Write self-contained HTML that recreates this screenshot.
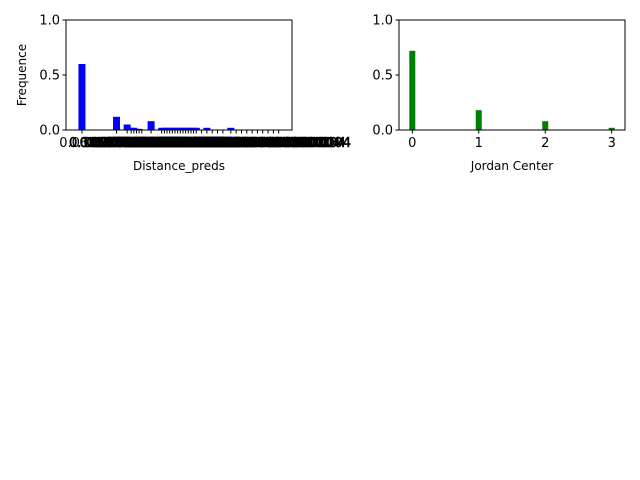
<!DOCTYPE html>
<html><head><meta charset="utf-8"><style>
body{margin:0;background:#fff;}
svg{display:block;font-family:"DejaVu Sans","Liberation Sans",sans-serif;}
</style></head><body>
<svg id="fig" width="640" height="480"></svg>
<script>
// Left chart data (x in distance units)
const distCats = [0.06,0.19,0.23,0.245,0.255,0.265,0.275,0.285,0.32,0.36,0.37,0.38,0.39,0.40,0.41,0.42,0.43,0.44,0.45,0.46,0.47,0.48,0.49,0.51,0.53,0.55,0.57,0.59,0.62,0.64,0.66,0.68,0.70,0.72,0.74,0.76,0.78,0.80];
const distVals = [0.60,0.12,0.05,0.02,0.02,0.01,0.01,0.0,0.08,0.02,0.02,0.02,0.02,0.02,0.02,0.02,0.02,0.02,0.02,0.02,0.02,0.02,0.02,0.0,0.02,0.0,0.0,0.0,0.02,0.0,0.0,0.0,0.0,0.0,0.0,0.0,0.0,0.0];
const distLabels = ["0.0625","0.1900000001","0.2300000001","0.2450000001","0.2550000001","0.2650000001","0.2750000001","0.2850000001","0.3200000001","0.3600000001","0.3700000001","0.3800000001","0.3900000001","0.4000000001","0.4100000001","0.4200000001","0.4300000001","0.4400000001","0.4500000001","0.4600000001","0.4700000001","0.4800000001","0.4900000001","0.5100000001","0.5300000001","0.55000000000001","0.57000000000001","0.590000000000001","0.620000000000001","0.640000000000001","0.660000000000001","0.680000000000001","0.7000000000000001","0.7200000000000001","0.7400000000000001","0.7600000000000004","0.7800000000000004","0.8000000000000004"];
// Right chart data
const jcCats = [0,1,2,3];
const jcVals = [0.72,0.18,0.08,0.02];
const jcLabels = ["0","1","2","3"];
const yTicks = [0,0.5,1.0];
const yTickLabels = ["0.0","0.5","1.0"];

const NS="http://www.w3.org/2000/svg";
const svg=document.getElementById('fig');
function mk(tag,attrs,parent){const e=document.createElementNS(NS,tag);for(const k in attrs)e.setAttribute(k,attrs[k]);(parent||svg).appendChild(e);return e;}

function axes(name,x0,x1,y0,y1,xmin,xmax,cats,vals,labels,color,barW,showYLabel,xTitle,labelSize,thick){
  const g=mk('g',{});
  
  
  const sx=v=>x0+(v-xmin)/(xmax-xmin)*(x1-x0);
  const sy=v=>y1-v*(y1-y0);
  cats.forEach((c,i)=>{
    const h=sy(0)-sy(vals[i]);
    const r=mk('rect',{x:sx(c)-barW/2,y:sy(vals[i]),width:barW,height:h,fill:color},g);
    
    
  });
  const fr=mk('rect',{x:x0,y:y0,width:x1-x0,height:y1-y0,fill:'none',stroke:'#000','stroke-width':1},g);
  
  
  yTicks.forEach((t,i)=>{
    mk('line',{x1:x0-3.5,x2:x0,y1:sy(t),y2:sy(t),stroke:'#000'},g);
    const tx=mk('text',{x:x0-6,y:sy(t)+4.5,'text-anchor':'end','font-size':13},g);
    tx.textContent=yTickLabels[i];
    
    
  });
  cats.forEach((c,i)=>{
    mk('line',{x1:sx(c),x2:sx(c),y1:y1,y2:y1+3.5,stroke:'#000'},g);
    const attrs={x:sx(c),y:y1+17,'text-anchor':'middle','font-size':labelSize};
    if(thick && i>0){attrs.stroke='#000';attrs['stroke-width']=0.6;}
    const tx=mk('text',attrs,g);
    tx.textContent=labels[i];
    
    
  });
  const xt=mk('text',{x:(x0+x1)/2,y:y1+40,'text-anchor':'middle','font-size':12},g);
  xt.textContent=xTitle;
  
  
  if(showYLabel){
    const yt=mk('text',{x:0,y:0,'text-anchor':'middle','font-size':12,transform:`translate(26,${(y0+y1)/2}) rotate(-90)`},g);
    yt.textContent='Frequence';
    
    
  }
}
axes('distance-chart',66,292,20,130,0,0.85,distCats,distVals,distLabels,'#0000ff',7,true,'Distance_preds',13,true);
axes('jordan-center-chart',399,625,20,130,-0.2,3.2,jcCats,jcVals,jcLabels,'#008000',6,false,'Jordan Center',13,false);
</script>
</body></html>
